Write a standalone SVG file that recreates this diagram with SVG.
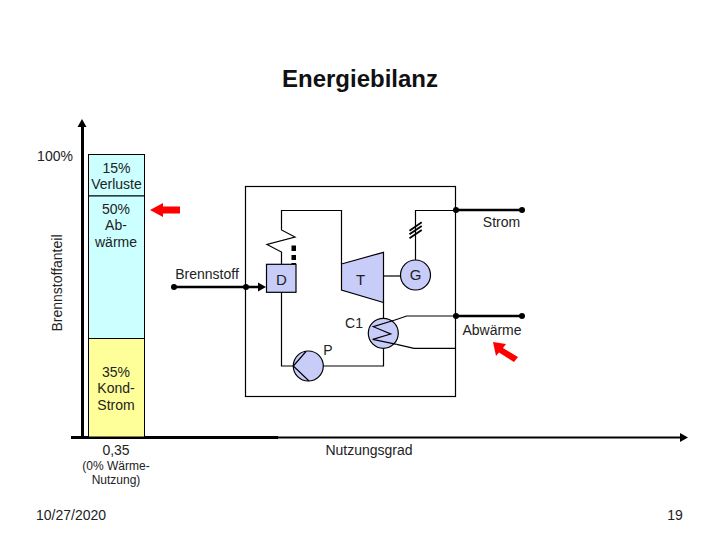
<svg xmlns="http://www.w3.org/2000/svg" width="720" height="540" viewBox="0 0 720 540">
<defs><style>
text{font-family:"Liberation Sans",Arial,sans-serif;font-size:14px;fill:#222;text-anchor:middle}
.l{fill:none;stroke:#000;stroke-width:1.2}
.h{fill:none;stroke:#000;stroke-width:2.4}
.n{fill:#c8ccf8;stroke:#000;stroke-width:1.2}
.d{fill:#000}
.r{fill:#f00}
</style></defs>
<rect width="720" height="540" fill="#fff"/>
<text x="360" y="87" style="font-size:24px;font-weight:bold;fill:#111">Energiebilanz</text>
<g id="axes">
<path d="M82.500 125V438" fill="none" stroke="#000" stroke-width="3"/>
<path d="M82 119L77.500 127H86.500Z" class="d"/>
<path d="M71 437.500H278" fill="none" stroke="#000" stroke-width="3"/>
<path d="M278 437.500H682" fill="none" stroke="#000" stroke-width="2"/>
<path d="M688 437.500L680 433V442Z" class="d"/>
<text x="55" y="161">100%</text>
<text transform="translate(62,283) rotate(-90)">Brennstoffanteil</text>
<text x="116" y="455">0,35</text>
<text x="116" y="470" style="font-size:12px">(0% Wärme-</text>
<text x="116" y="484" style="font-size:12px">Nutzung)</text>
<text x="369" y="455">Nutzungsgrad</text>
</g>
<g id="bar-verluste"><rect x="88.500" y="154.500" width="56" height="41.500" fill="#ccffff" stroke="#000"/><text x="116.500" y="173">15%</text><text x="116.500" y="189">Verluste</text></g>
<g id="bar-abwaerme"><rect x="88.500" y="196" width="56" height="142.500" fill="#ccffff" stroke="#000"/><text x="116" y="214">50%</text><text x="116" y="230">Ab-</text><text x="116" y="247">wärme</text></g>
<g id="bar-strom"><rect x="88.500" y="338.500" width="56" height="98.500" fill="#ffff99" stroke="#000"/><text x="116" y="377">35%</text><text x="116" y="393">Kond-</text><text x="116" y="410">Strom</text></g>
<g id="frame"><rect x="245.500" y="186.500" width="210" height="210" class="l"/></g>
<g id="connectors">
<path class="l" d="M281.500 264V252L267 244.500L295 237L281.500 230V210.500H341.500V264"/>
<path class="l" d="M281.500 292V366H293"/>
<path class="l" d="M323 366H383.500V348"/>
<path class="l" d="M383.500 302V318"/>
<path class="l" d="M383.500 276H401"/>
<path class="l" d="M415.500 260V210.500H456"/>
<path class="l" style="stroke-width:1.8" d="M409.500 230.700L421.700 222.300M409.500 234.300L421.700 226M409.500 238.300L421.700 230"/>
<path class="h" d="M456 210H522M456 316H522M174 287H258"/>
<path d="M266 287L258 282.500V291.500Z" class="d"/>
<circle cx="174" cy="287" r="3" class="d"/><circle cx="246" cy="287" r="3" class="d"/>
<circle cx="456" cy="210" r="3" class="d"/><circle cx="522" cy="210" r="3" class="d"/>
<circle cx="456" cy="316" r="3" class="d"/><circle cx="522" cy="316" r="3" class="d"/>
<rect x="291.500" y="245.500" width="4.500" height="5.500" class="d"/><rect x="291.500" y="255" width="4.500" height="5" class="d"/><rect x="291.500" y="263" width="4.500" height="3" class="d"/>
<path class="l" d="M395 320L406.700 316H455M396.700 344.300L414 348.300H455"/>
</g>
<g id="node-D"><rect x="266.500" y="264.300" width="29.500" height="28" class="n"/><text x="281.500" y="285" style="font-size:15px">D</text></g>
<g id="node-T"><path class="n" d="M341.500 264L383.500 252.300V302.500L341.500 290Z"/><text x="360.500" y="285" style="font-size:15px">T</text></g>
<g id="node-G"><circle cx="415.500" cy="275" r="15" class="n"/><text x="415.500" y="280" style="font-size:15px">G</text></g>
<g id="node-C1"><circle cx="383.300" cy="333.300" r="15" class="n"/><path class="l" d="M395 320L373.300 326.700L390.700 334L372.700 339.300L396.700 344.300"/><text x="354" y="328">C1</text></g>
<g id="node-P"><circle cx="308.300" cy="366" r="15" class="n"/><path class="l" d="M306 351.500L293.300 366L309 381"/><text x="328" y="355">P</text></g>
<text x="501.500" y="227">Strom</text>
<text x="207" y="279">Brennstoff</text>
<text x="492" y="335">Abwärme</text>
<g id="red-arrows">
<path class="r" d="M150 210L163 203V206.500H180V213.500H163V217Z"/>
<path class="r" d="M493 342L506 344L503 348L518 357L514 362L499 352.500L496 356Z"/>
</g>
<text x="71" y="520">10/27/2020</text>
<text x="675" y="520">19</text>
</svg>
